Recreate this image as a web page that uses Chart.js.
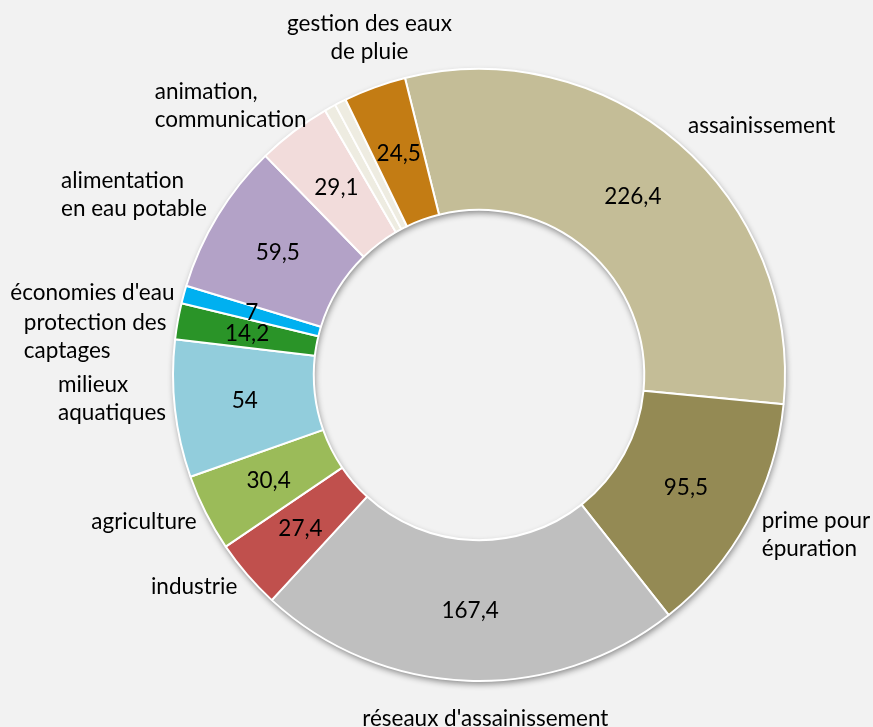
<!DOCTYPE html>
<html>
<head>
<meta charset="utf-8">
<script src="https://cdn.jsdelivr.net/npm/chart.js@4.4.1/dist/chart.umd.min.js"></script>
<style>
  html, body { margin: 0; padding: 0; background: #f2f2f2; }
  #wrap { width: 873px; height: 727px; position: relative; }
</style>
</head>
<body>
<div id="wrap"><canvas id="c" width="873" height="727"></canvas></div>
<script>
// ---- data ----
const categories = [
  ['assainissement'],
  ['prime pour', 'épuration'],
  ["réseaux d'assainissement"],
  ['industrie'],
  ['agriculture'],
  ['milieux', 'aquatiques'],
  ['protection des', 'captages'],
  ["économies d'eau"],
  ['alimentation', 'en eau potable'],
  ['animation,', 'communication'],
  [],
  [],
  ['gestion des eaux', 'de pluie']
];
const values = [226.4, 95.5, 167.4, 27.4, 30.4, 54, 14.2, 7, 59.5, 29.1, 4.5, 4.5, 24.5];
const showValue = [true, true, true, true, true, true, true, true, true, true, false, false, true];
const colors = ['#C4BD97', '#948A54', '#BFBFBF', '#C0504D', '#9BBB59', '#92CDDC', '#2A9428',
                '#00B0F0', '#B3A2C7', '#F2DCDB', '#EEECE1', '#EEECE1', '#C37C14'];

// ---- label styling (nudges mimic the spreadsheet's own label placement) ----
const labelAngleNudge = [7.9, -3.2, -3.2, 4.1, 3.1, 2.6, -4.4, -3.3, -3.7, -5.5, 0, 0, 1.9];
const labelRadiusNudge = [0, 0, 16, 0, 0, 0, 0, 0, 0, -18, 0, 0, -10];
const FONT = '22.5px Lato, "Open Sans", sans-serif';
const LINE_H = 28;
const GAP = 6;

const fmt = v => String(v).replace('.', ',');

const shadowPlugin = {
  id: 'ringShadow',
  beforeDatasetsDraw(chart) {
    const meta = chart.getDatasetMeta(0);
    if (!meta.data.length) return;
    const a = meta.data[0];
    const ctx = chart.ctx;
    ctx.save();
    ctx.shadowColor = 'rgba(0,0,0,0.45)';
    ctx.shadowBlur = 6;
    ctx.shadowOffsetX = 1;
    ctx.shadowOffsetY = 3;
    ctx.fillStyle = '#ffffff';
    ctx.beginPath();
    ctx.arc(a.x, a.y, a.outerRadius, 0, Math.PI * 2);
    ctx.arc(a.x, a.y, a.innerRadius, 0, Math.PI * 2, true);
    ctx.closePath();
    ctx.fill();
    ctx.restore();
  }
};

const labelPlugin = {
  id: 'sliceLabels',
  afterDatasetsDraw(chart) {
    const ctx = chart.ctx;
    const meta = chart.getDatasetMeta(0);
    ctx.save();
    ctx.font = FONT;
    ctx.fillStyle = '#000000';
    meta.data.forEach((arc, i) => {
      const p = arc.getProps(['x', 'y', 'startAngle', 'endAngle', 'innerRadius', 'outerRadius'], true);
      const mid = (p.startAngle + p.endAngle) / 2;
      if (showValue[i]) {
        const r = (p.innerRadius + p.outerRadius) / 2;
        ctx.textAlign = 'center';
        ctx.textBaseline = 'middle';
        ctx.fillText(fmt(values[i]), p.x + Math.cos(mid) * r, p.y + Math.sin(mid) * r);
      }
      const lines = categories[i];
      if (!lines.length) return;
      const la = mid + labelAngleNudge[i] * Math.PI / 180;
      const cs = Math.cos(la), sn = Math.sin(la);
      const w = Math.max(...lines.map(l => ctx.measureText(l).width));
      const h = LINE_H * lines.length;
      const d = (w / 2) * Math.abs(cs) + (h / 2) * Math.abs(sn);
      const R = p.outerRadius + GAP + d + labelRadiusNudge[i];
      const cx = p.x + cs * R, cy = p.y + sn * R;
      const centered = Math.abs(cs) < 0.5;
      ctx.textBaseline = 'middle';
      lines.forEach((line, k) => {
        const y = cy - h / 2 + LINE_H * (k + 0.5);
        if (centered) {
          ctx.textAlign = 'center';
          ctx.fillText(line, cx, y);
        } else {
          ctx.textAlign = 'left';
          ctx.fillText(line, cx - w / 2, y);
        }
      });
    });
    ctx.restore();
  }
};

new Chart(document.getElementById('c'), {
  type: 'doughnut',
  data: {
    labels: categories.map(l => l.join(' ')),
    datasets: [{
      data: values,
      backgroundColor: colors,
      borderColor: '#ffffff',
      borderWidth: 2
    }]
  },
  options: {
    responsive: false,
    animation: false,
    cutout: '54%',
    rotation: -14,
    layout: { padding: { top: 68, left: 172, right: 87, bottom: 45 } },
    plugins: {
      legend: { display: false },
      tooltip: { enabled: false }
    }
  },
  plugins: [shadowPlugin, labelPlugin]
});
</script>
</body>
</html>
